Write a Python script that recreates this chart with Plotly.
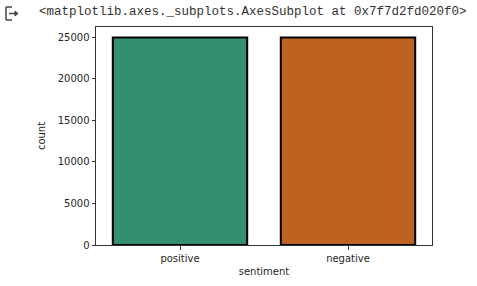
import plotly.graph_objects as go

categories = ["positive", "negative"]
counts = [25000, 25000]
colors = ["#348f71", "#be621f"]
y_ticks = [0, 5000, 10000, 15000, 20000, 25000]
y_tick_labels = ["0", "5000", "10000", "15000", "20000", "25000"]

W, H = 477, 286
L, R, T, B = 96, 432, 27, 245

fig = go.Figure()
fig.add_trace(go.Bar(
    x=[0, 1], y=counts, width=0.8,
    marker=dict(color=colors, line=dict(color="black", width=2)),
    showlegend=False,
))

fig.update_layout(
    width=W, height=H,
    margin=dict(l=L, r=W - R, t=T, b=H - B),
    paper_bgcolor="white", plot_bgcolor="white",
    font=dict(family="DejaVu Sans", size=10, color="#262626"),
    xaxis=dict(
        range=[-0.5, 1.5], tickvals=[0, 1], ticktext=categories,
        showline=True, linecolor="#333", linewidth=1, mirror=True,
        ticks="outside", ticklen=3.5, tickcolor="#333",
        showgrid=False, zeroline=False, automargin=False,
        title=dict(text="sentiment", standoff=5, font=dict(size=10)),
    ),
    yaxis=dict(
        range=[0, 26250], tickvals=y_ticks, ticktext=y_tick_labels,
        showline=True, linecolor="#333", linewidth=1, mirror=True,
        ticks="outside", ticklen=3.5, tickcolor="#333",
        showgrid=False, zeroline=False, automargin=False,
        title=dict(text="count", standoff=10, font=dict(size=10)),
    ),
    annotations=[dict(
        text="&lt;matplotlib.axes._subplots.AxesSubplot at 0x7f7d2fd020f0&gt;",
        xref="paper", yref="paper",
        x=(37 - L) / (R - L), y=(B - 12) / (B - T),
        xanchor="left", yanchor="middle", showarrow=False,
        font=dict(family="Liberation Mono", size=12.5, color="#333"),
    )],
)

def px(x, y):
    return (x - L) / (R - L), (B - y) / (B - T)

icon_lines = [
    ((12, 7), (6, 7)), ((6, 7), (6, 20)), ((6, 20), (12, 20)),
    ((9, 13.5), (17, 13.5)),
]
for (a, b) in icon_lines:
    x0, y0 = px(*a); x1, y1 = px(*b)
    fig.add_shape(type="line", xref="paper", yref="paper",
                  x0=x0, y0=y0, x1=x1, y1=y1,
                  line=dict(color="#444", width=1.5))
ax, ay = px(18, 13.5); bx, by = px(15, 11); cx, cy = px(15, 16)
fig.add_shape(type="path", xref="paper", yref="paper",
              path=f"M {ax} {ay} L {bx} {by} L {cx} {cy} Z",
              fillcolor="#444", line=dict(color="#444", width=1))

fig.write_html("out.html")
